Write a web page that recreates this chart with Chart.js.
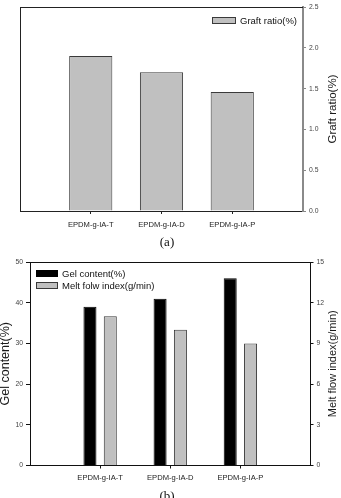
<!DOCTYPE html>
<html>
<head>
<meta charset="utf-8">
<script src="https://cdn.jsdelivr.net/npm/chart.js@4.4.1/dist/chart.umd.min.js"></script>
<style>
  html, body { margin: 0; padding: 0; background: #fff; width: 341px; height: 498px; overflow: hidden; }
  #wrap { position: relative; width: 341px; height: 498px; }
  canvas { position: absolute; left: 0; }
  #c1 { top: 0; }
  #c2 { top: 250px; }
  .cap { position: absolute; font-family: 'Liberation Serif', 'Times New Roman', serif; font-size: 13px; color: #111; transform: translate(-50%, -50%); white-space: nowrap; }
</style>
</head>
<body>
<div id="wrap">
  <canvas id="c1" width="341" height="250"></canvas>
  <canvas id="c2" width="341" height="248"></canvas>
  <div class="cap" style="left:167px; top:242px;">(a)</div>
  <div class="cap" style="left:167px; top:496px;">(b)</div>
</div>
<script>
// ---- data ----
const categories = ['', 'EPDM-g-IA-T', 'EPDM-g-IA-D', 'EPDM-g-IA-P', ''];
const graftRatio = [null, 1.90, 1.70, 1.46, null];
const gelContent = [null, 39, 41, 46, null];
const meltFlow   = [null, 11, 10, 9, null];
const graftLabel = 'Graft ratio(%)';
const gelLabel = 'Gel content(%)';
const meltLabel = 'Melt folw index(g/min)';
const meltAxisTitle = 'Melt flow index(g/min)';

const FONT = "'Liberation Sans', Arial, sans-serif";
const GREY = '#c0c0c0';
const GREY_BORDER = '#3a3a3a';

// frame + axis titles + legend plugin
const decor = {
  id: 'decor',
  afterDatasetsDraw(chart, args, opts) {
    const ctx = chart.ctx, a = chart.chartArea;
    ctx.save();
    ctx.strokeStyle = opts.frameColor || '#111';
    ctx.lineWidth = 1;
    ctx.beginPath();
    const L = Math.round(a.left) + 0.5, T = Math.round(a.top) + 0.5;
    if (opts.drawLeft) { ctx.moveTo(L, a.top); ctx.lineTo(L, a.bottom); }
    ctx.moveTo(a.left, T); ctx.lineTo(a.right, T);
    ctx.stroke();
    (opts.titles || []).forEach(t => {
      ctx.save();
      ctx.translate(t.x, (a.top + a.bottom) / 2);
      ctx.rotate(-Math.PI / 2);
      ctx.fillStyle = '#1a1a1a';
      ctx.font = t.size + 'px ' + FONT;
      ctx.textAlign = 'center';
      ctx.textBaseline = 'middle';
      ctx.fillText(t.text, 0, 0);
      ctx.restore();
    });
    (opts.legend || []).forEach(l => {
      const ds = chart.data.datasets[l.ds];
      ctx.fillStyle = ds.backgroundColor;
      ctx.fillRect(l.x, l.y, l.w, l.h);
      ctx.strokeStyle = ds.borderColor;
      ctx.lineWidth = 1;
      ctx.strokeRect(l.x + 0.5, l.y + 0.5, l.w - 1, l.h - 1);
      ctx.fillStyle = '#111';
      ctx.font = '9.5px ' + FONT;
      ctx.textAlign = 'left';
      ctx.textBaseline = 'middle';
      ctx.fillText(ds.label, l.x + l.w + 4, l.y + l.h / 2 + 0.5);
    });
    ctx.restore();
  }
};

const edgeTick = (color) => (c) => (c.index === 0 || c.index === categories.length - 1) ? 'rgba(0,0,0,0)' : color;

// ---- chart (a) ----
new Chart(document.getElementById('c1'), {
  type: 'bar',
  data: {
    labels: categories,
    datasets: [{
      label: graftLabel,
      data: graftRatio,
      backgroundColor: GREY,
      borderColor: GREY_BORDER,
      borderWidth: 1,
      yAxisID: 'y',
      categoryPercentage: 1.0,
      barPercentage: 0.61
    }]
  },
  options: {
    responsive: false,
    animation: false,
    devicePixelRatio: 1,
    layout: { padding: { left: 20, top: 7, right: 0, bottom: 0 } },
    plugins: {
      legend: { display: false },
      tooltip: { enabled: false },
      decor: {
        drawLeft: true,
        frameColor: '#222',
        titles: [{ text: graftLabel, x: 333, size: 11.5 }],
        legend: [{ ds: 0, x: 212, y: 17, w: 24, h: 7 }]
      }
    },
    scales: {
      x: {
        type: 'category',
        offset: false,
        grid: { display: true, offset: false, drawOnChartArea: false, drawTicks: true, tickLength: 3, tickColor: edgeTick('#222') },
        border: { display: true, color: '#222', width: 1 },
        ticks: { autoSkip: false, maxRotation: 0, padding: 6, color: '#222', font: { family: FONT, size: 7.6 } },
        afterFit: s => { s.height = 39; }
      },
      y: {
        position: 'right',
        min: 0, max: 2.5,
        ticks: { stepSize: 0.5, padding: 3, color: '#444', font: { family: FONT, size: 6.8 }, callback: v => Number(v).toFixed(1) },
        grid: { display: true, drawOnChartArea: false, drawTicks: true, tickLength: 3, tickColor: '#888' },
        border: { display: true, color: '#8a8a8a', width: 2 },
        afterFit: s => { s.width = 38; }
      }
    }
  },
  plugins: [decor]
});

// ---- chart (b) ----
new Chart(document.getElementById('c2'), {
  type: 'bar',
  data: {
    labels: categories,
    datasets: [{
      label: gelLabel,
      data: gelContent,
      backgroundColor: '#000000',
      borderColor: '#000000',
      borderWidth: 1,
      yAxisID: 'y',
      categoryPercentage: 0.58,
      barPercentage: 0.64
    }, {
      label: meltLabel,
      data: meltFlow,
      backgroundColor: GREY,
      borderColor: GREY_BORDER,
      borderWidth: 1,
      yAxisID: 'y1',
      categoryPercentage: 0.58,
      barPercentage: 0.64
    }]
  },
  options: {
    responsive: false,
    animation: false,
    devicePixelRatio: 1,
    layout: { padding: { left: 0, top: 12, right: 0, bottom: 0 } },
    plugins: {
      legend: { display: false },
      tooltip: { enabled: false },
      decor: {
        drawLeft: false,
        frameColor: '#111',
        titles: [
          { text: gelLabel, x: 5.5, size: 12.5 },
          { text: meltAxisTitle, x: 333, size: 11 }
        ],
        legend: [
          { ds: 0, x: 36, y: 20, w: 22, h: 7 },
          { ds: 1, x: 36, y: 32, w: 22, h: 7 }
        ]
      }
    },
    scales: {
      x: {
        type: 'category',
        offset: false,
        grid: { display: true, offset: false, drawOnChartArea: false, drawTicks: true, tickLength: 3, tickColor: edgeTick('#111') },
        border: { display: true, color: '#111', width: 1 },
        ticks: { autoSkip: false, maxRotation: 0, padding: 5, color: '#222', font: { family: FONT, size: 7.6 } },
        afterFit: s => { s.height = 32.5; }
      },
      y: {
        position: 'left',
        min: 0, max: 50,
        ticks: { stepSize: 10, padding: 3, color: '#444', font: { family: FONT, size: 6.8 } },
        grid: { display: true, drawOnChartArea: false, drawTicks: true, tickLength: 4, tickColor: '#111' },
        border: { display: true, color: '#111', width: 1 },
        afterFit: s => { s.width = 30; }
      },
      y1: {
        position: 'right',
        min: 0, max: 15,
        ticks: { stepSize: 3, padding: 3, color: '#444', font: { family: FONT, size: 6.8 } },
        grid: { display: true, drawOnChartArea: false, drawTicks: true, tickLength: 3, tickColor: '#111' },
        border: { display: true, color: '#111', width: 1 },
        afterFit: s => { s.width = 30.5; }
      }
    }
  },
  plugins: [decor]
});
</script>
</body>
</html>
